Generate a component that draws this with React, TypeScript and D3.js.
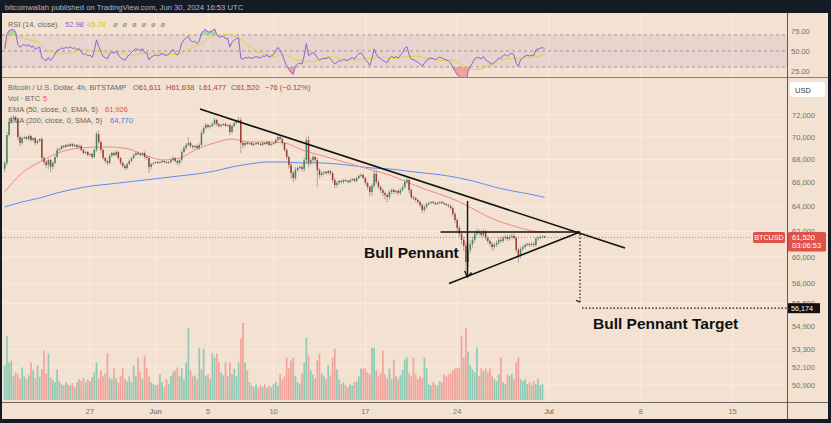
import React from 'react';
import * as d3 from 'd3';

// ---------- DATA (4h candles, BITSTAMP BTC/USD, from 2024-05-20 12:00 UTC) ----------
const START = Date.UTC(2024, 4, 20, 12);
const STEP = 4 * 3600 * 1000;
const FIRST_OPEN = 67200;
const LAST_OPEN = 61611;

const closes = [
  67700, 70170, 71360, 71720, 71820, 71540, 69990, 69460, 69900, 69990,
  69810, 70080, 69720, 69900, 69460, 69640, 69810, 68130, 67780, 67520,
  67960, 67350, 67700, 68220, 68840, 68920, 69190, 69100, 69280, 69190,
  69370, 69190, 69280, 69100, 69190, 68840, 68570, 68660, 68400, 68480,
  68220, 68840, 70260, 69550, 68840, 68130, 67870, 67700, 68310, 68570,
  68400, 68660, 68130, 67700, 67440, 67260, 67610, 67870, 68130, 68400,
  68570, 68480, 68400, 68570, 68220, 68130, 67350, 67610, 67700, 67780,
  67700, 67780, 67870, 67780, 67700, 67780, 67960, 68130, 67870, 67700,
  67960, 68660, 69010, 69280, 69460, 69190, 69100, 69190, 69010, 69280,
  70360, 70810, 71080, 70900, 70990, 71170, 71540, 71170, 70990, 71080,
  71170, 70990, 71080, 70450, 70990, 71260, 71450, 71540, 69460, 69280,
  69460, 69370, 69460, 69280, 69370, 69460, 69370, 69280, 69460, 69370,
  69550, 69280, 69370, 69460, 69720, 69990, 69810, 69460, 68840, 68220,
  67520, 66830, 66400, 67090, 67260, 67350, 67180, 67960, 69720, 67700,
  67960, 68220, 67960, 67090, 66660, 66830, 66920, 66830, 67000, 66830,
  66230, 65810, 65980, 66150, 66060, 66230, 66150, 66060, 66230, 66320,
  66150, 66400, 66580, 66660, 66400, 65980, 65640, 65220, 65730, 66750,
  66060, 65640, 65390, 65140, 64970, 64800, 65220, 65390, 65220, 65310,
  65140, 65390, 65640, 66060, 66230, 65390, 64800, 64720, 64550, 64390,
  64140, 63730, 63980, 64220, 64310, 64390, 64310, 64220, 64310, 64390,
  64310, 64220, 64140, 64060, 63890, 63400, 62920, 62270, 61800, 61320,
  60850, 59620, 60540, 61010, 61320, 61800, 61960, 61880, 61720, 61960,
  61480, 61240, 61010, 60770, 60930, 61090, 61320, 61240, 61480, 61560,
  61400, 61560, 61640, 61480, 60540, 60080, 60620, 60770, 60930, 61010,
  60930, 61010, 60930, 61400, 61480, 61560, 61596, 61520,
];

const wickUp = [
  150, 250, 200, 150, 180, 120, 200, 150, 100, 120,
  90, 150, 120, 80, 110, 130, 90, 200, 150, 180,
  120, 100, 140, 160, 180, 100, 80, 120, 90, 70,
  110, 80, 100, 90, 120, 130, 80, 100, 90, 110,
  120, 140, 200, 300, 150, 120, 100, 140, 180, 120,
  90, 140, 110, 80, 100, 120, 90, 140, 120, 110,
  100, 140, 90, 80, 150, 100, 220, 90, 80, 70,
  60, 80, 70, 60, 90, 80, 110, 150, 90, 100,
  120, 180, 200, 160, 530, 150, 120, 90, 110, 150,
  250, 180, 160, 140, 120, 150, 200, 120, 100, 110,
  90, 130, 100, 150, 160, 140, 120, 280, 250, 200,
  120, 90, 80, 70, 100, 80, 70, 90, 80, 100,
  120, 90, 80, 110, 150, 180, 200, 120, 100, 120,
  150, 200, 180, 250, 150, 120, 140, 220, 300, 400,
  180, 150, 120, 200, 180, 120, 100, 90, 110, 100,
  120, 180, 160, 100, 90, 80, 100, 90, 80, 100,
  90, 110, 120, 150, 130, 120, 110, 140, 200, 250,
  300, 180, 140, 120, 150, 110, 150, 120, 100, 90,
  110, 130, 160, 200, 180, 150, 140, 100, 90, 110,
  120, 140, 150, 110, 90, 80, 100, 70, 90, 80,
  90, 100, 80, 110, 120, 140, 150, 180, 200, 220,
  250, 300, 500, 280, 240, 200, 260, 180, 200, 220,
  180, 150, 130, 160, 180, 200, 220, 250, 180, 160,
  140, 160, 180, 150, 120, 200, 180, 150, 120, 110,
  100, 120, 140, 160, 150, 120, 100, 27,
];

const wickDn = [
  300, 200, 150, 180, 120, 140, 250, 300, 150, 120,
  100, 120, 140, 110, 200, 90, 100, 250, 300, 280,
  350, 450, 200, 150, 100, 120, 80, 100, 90, 110,
  80, 100, 90, 120, 100, 130, 110, 150, 120, 130,
  160, 120, 150, 200, 250, 180, 200, 220, 150, 120,
  110, 100, 200, 180, 160, 200, 150, 120, 100, 110,
  90, 110, 120, 100, 150, 180, 520, 200, 120, 90,
  80, 70, 90, 80, 60, 90, 100, 120, 150, 200,
  180, 150, 120, 160, 140, 180, 200, 150, 120, 160,
  120, 110, 140, 160, 120, 100, 130, 200, 150, 120,
  110, 90, 120, 300, 150, 110, 120, 150, 890, 300,
  200, 100, 90, 80, 70, 90, 80, 70, 90, 80,
  70, 90, 100, 80, 90, 120, 100, 150, 200, 250,
  300, 500, 400, 200, 180, 150, 200, 250, 300, 400,
  200, 220, 250, 1450, 300, 200, 180, 150, 160, 200,
  250, 300, 200, 150, 120, 140, 100, 120, 90, 100,
  110, 120, 100, 140, 120, 200, 250, 350, 300, 200,
  200, 220, 250, 300, 400, 420, 200, 180, 150, 160,
  200, 180, 150, 140, 160, 300, 200, 180, 150, 160,
  180, 250, 200, 140, 120, 100, 90, 110, 80, 100,
  90, 100, 120, 150, 160, 200, 250, 300, 250, 350,
  400, 1130, 400, 250, 300, 200, 150, 180, 200, 160,
  200, 180, 220, 300, 200, 180, 160, 150, 140, 120,
  130, 150, 120, 140, 200, 500, 200, 160, 140, 130,
  120, 140, 150, 130, 120, 110, 100, 43,
];

const volumes = [
  700, 1300, 760, 800, 480, 560, 520, 420, 660, 480,
  420, 500, 760, 600, 440, 700, 460, 620, 1000, 540,
  940, 460, 400, 360, 620, 380, 320, 300, 360, 320,
  300, 340, 260, 360, 420, 380, 440, 360, 420, 380,
  460, 560, 760, 440, 600, 480, 540, 940, 460, 420,
  640, 440, 360, 480, 640, 420, 380, 480, 360, 700,
  480, 860, 560, 440, 900, 640, 480, 360, 320, 300,
  320, 520, 360, 260, 420, 320, 480, 560, 600, 660,
  480, 640, 420, 760, 1460, 600, 480, 500, 420, 1060,
  620, 1040, 480, 520, 420, 940, 860, 940, 760, 560,
  500, 760, 480, 760, 520, 640, 480, 760, 1240, 1560,
  760, 600, 360, 300, 260, 320, 240, 300, 260, 320,
  240, 300, 260, 320, 360, 300, 520, 420, 480, 860,
  640, 800, 860, 480, 360, 320, 540, 760, 1260, 900,
  600, 520, 440, 800, 940, 540, 480, 420, 700, 500,
  860, 1040, 620, 420, 320, 360, 300, 260, 320, 300,
  360, 380, 480, 640, 640, 640, 560, 520, 1060, 1060,
  600, 480, 540, 1000, 520, 440, 640, 420, 820, 480,
  420, 500, 600, 820, 860, 540, 480, 860, 520, 420,
  480, 440, 860, 640, 320, 300, 360, 320, 300, 380,
  360, 520, 480, 520, 540, 600, 640, 640, 660, 1300,
  860, 1460, 980, 700, 620, 560, 1060, 480, 640, 580,
  640, 560, 640, 480, 420, 380, 520, 860, 360, 320,
  520, 480, 520, 420, 760, 860, 420, 380, 420, 320,
  360, 300, 380, 320, 420, 300, 320, 5,
];

// Moving averages at every 8th candle
const maIdx = [0, 8, 16, 24, 32, 40, 48, 56, 64, 72, 80, 88, 96, 104, 112, 120, 128, 136, 144, 152, 160, 168, 176, 184, 192, 200, 208, 216, 224, 232, 240, 247];
const ema50 = [65220, 66830, 67780, 68550, 68950, 69080, 69100, 68950, 68400, 67960, 68130, 68920, 69460, 69810, 69550, 69550, 69460, 68840, 68400, 67960, 67520, 67090, 66660, 66060, 65470, 64970, 64400, 63650, 62950, 62480, 62080, 61926];
const sma200 = [63980, 64390, 64720, 65140, 65470, 65730, 65890, 66060, 66230, 66400, 66580, 66750, 67000, 67350, 67610, 67780, 67780, 67700, 67700, 67610, 67440, 67260, 67180, 67000, 66830, 66660, 66400, 66060, 65640, 65310, 65050, 64770];

const RSI_SEED_GAIN = 140;
const RSI_SEED_LOSS = 160;

const priceTicks = [72000, 70000, 68000, 66000, 64000, 62000, 60000, 58000, 56500, 54900, 53300, 52100, 50900];
const timeTicks: [string, string][] = [
  ['2024-05-27', '27'], ['2024-06-01', 'Jun'], ['2024-06-05', '5'], ['2024-06-10', '10'],
  ['2024-06-17', '17'], ['2024-06-24', '24'], ['2024-07-01', 'Jul'], ['2024-07-08', '8'], ['2024-07-15', '15'],
];
const rsiLabels = [75, 50, 25];
const rsiBands = [70, 50, 30];

// annotation anchor points (time, price)
const upperTrend: [string, number][] = [['2024-06-04T09:20Z', 72557], ['2024-07-06T19:05Z', 60692]];
const lowerTrend: [string, number][] = [['2024-06-23T09:10Z', 57990], ['2024-07-03T08:45Z', 61950]];
const flagTop: [string, number][] = [['2024-06-22T17:30Z', 61950], ['2024-07-03T08:45Z', 61950]];
const flagPole: [string, number][] = [['2024-06-24T18:55Z', 64470], ['2024-06-24T18:55Z', 58475]];
const TARGET = 56174;
const LAST_PRICE = 61520;
const apexTime = '2024-07-03T08:45Z';
const bullLabel: [string, number] = ['2024-06-16T21:35Z', 59878];
const targetLabel: [string, number] = ['2024-07-04T08:30Z', 54690];

export default function App() {
  const W = 831, H = 423;
  const PL = 2, PR = 787.5, RSI_T = 13, RSI_B = 77.5, MAIN_T = 78, MAIN_B = 402.5, AX_B = 419;
  const font = '"Liberation Sans", Arial, sans-serif';

  const x = d3.scaleUtc().domain([new Date(START), new Date(Date.UTC(2024, 6, 1))]).range([4.7, 549]);
  const y = d3.scaleLog().domain([72000, 58000]).range([115, 283.3]);
  const yR = d3.scaleLinear().domain([70, 30]).range([35, 67]);
  const yV = d3.scaleLinear().domain([0, 1600]).range([400, 321]);

  const candles = closes.map((c, i) => {
    const o = i === 0 ? FIRST_OPEN : i === closes.length - 1 ? LAST_OPEN : closes[i - 1];
    return {
      t: new Date(START + i * STEP), o, c,
      hi: Math.max(o, c) + (wickUp[i] ?? 0),
      lo: Math.min(o, c) - (wickDn[i] ?? 0),
      v: volumes[i] ?? 0,
    };
  });

  // RSI(14) Wilder + SMA(14)
  let ag = RSI_SEED_GAIN, al = RSI_SEED_LOSS;
  const rsi = closes.map((c, i) => {
    const prev = i === 0 ? FIRST_OPEN : closes[i - 1];
    const d = c - prev;
    ag = (ag * 13 + Math.max(d, 0)) / 14;
    al = (al * 13 + Math.max(-d, 0)) / 14;
    return 100 - 100 / (1 + ag / al);
  });
  const rsiMa = rsi.map((_, i) => d3.mean(rsi.slice(Math.max(0, i - 13), i + 1)) as number);
  const tIdx = (i: number) => x(new Date(START + i * STEP));

  const rsiLine = d3.line<number>().x((_, i) => tIdx(i)).y(d => yR(d))(rsi) || '';
  const rsiMaLine = d3.line<number>().x((_, i) => tIdx(i)).y(d => yR(d)).curve(d3.curveMonotoneX)(rsiMa) || '';
  const rsiHi = d3.area<number>().x((_, i) => tIdx(i)).y0(yR(70)).y1(d => yR(Math.max(d, 70)))(rsi) || '';
  const rsiLo = d3.area<number>().x((_, i) => tIdx(i)).y0(yR(30)).y1(d => yR(Math.min(d, 30)))(rsi) || '';

  const maLine = (vals: number[]) =>
    d3.line<number>().x((_, k) => tIdx(maIdx[k])).y(d => y(d)).curve(d3.curveMonotoneX)(vals) || '';

  const P = (p: [string, number]) => [x(new Date(p[0])), y(p[1])];
  const seg = (a: [string, number][]) => {
    const [x1, y1] = P(a[0]); const [x2, y2] = P(a[1]);
    return { x1, y1, x2, y2 };
  };
  const up = seg(upperTrend), lo = seg(lowerTrend), ft = seg(flagTop), fp = seg(flagPole);
  const apexX = x(new Date(apexTime));
  const yT = y(TARGET);
  const yLast = y(LAST_PRICE);
  const fmt = d3.format(',');
  const [blx, bly] = P(bullLabel);
  const [tlx, tly] = P(targetLabel);

  const gridC = '#f8ece2';
  const axisTxt = '#7b7169';
  const legendTxt = '#6e655e';

  return (
    <svg width={W} height={H} style={{ position: 'absolute', left: 0, top: 0, display: 'block' }} fontFamily={font}>
      <defs>
        <clipPath id="mainClip"><rect x={PL} y={MAIN_T} width={PR - PL} height={MAIN_B - MAIN_T} /></clipPath>
        <clipPath id="rsiClip"><rect x={PL} y={RSI_T} width={PR - PL} height={RSI_B - RSI_T} /></clipPath>
      </defs>
      <rect x={0} y={0} width={W} height={H} fill="#161a25" />
      <rect x={PL} y={RSI_T} width={W - 3 - PL} height={AX_B - RSI_T} fill="#f3e1d1" />
      <text x={5} y={9.5} fontSize={7.7} fill="#b4b7c0">bitcoinwallah published on TradingView.com, Jun 30, 2024 16:53 UTC</text>

      {/* vertical grid */}
      {timeTicks.map(([d]) => (
        <line key={'vg' + d} x1={x(new Date(d))} x2={x(new Date(d))} y1={RSI_T} y2={MAIN_B} stroke={gridC} strokeWidth={1} />
      ))}
      {/* horizontal grid */}
      {priceTicks.map(p => (
        <line key={'hg' + p} x1={PL} x2={PR} y1={y(p)} y2={y(p)} stroke={gridC} strokeWidth={1} />
      ))}

      {/* RSI pane */}
      <rect x={PL} y={yR(70)} width={PR - PL} height={yR(30) - yR(70)} fill="#7e57c2" opacity={0.09} />
      {rsiBands.map(b => (
        <line key={'rb' + b} x1={PL} x2={PR} y1={yR(b)} y2={yR(b)} stroke="#9a8e8a" strokeDasharray="3,3" strokeWidth={0.9} />
      ))}
      <g clipPath="url(#rsiClip)">
        <path d={rsiHi} fill="#7cc48a" opacity={0.55} />
        <path d={rsiLo} fill="#f07070" opacity={0.55} />
        <path d={rsiMaLine} fill="none" stroke="#e8cf2e" strokeWidth={1} />
        <path d={rsiLine} fill="none" stroke="#8a63d2" strokeWidth={1} />
      </g>
      <text y={26.5} fontSize={7.5}>
        <tspan x={8} fill={legendTxt}>RSI (14, close)</tspan>
        <tspan x={65} fill="#8a63d2">52.98</tspan>
        <tspan x={87} fill="#d9c21f">45.78</tspan>
        {[113, 122.5, 132, 141.5, 151, 160.5].map(xx => <tspan key={xx} x={xx} fill="#8c837c">ø</tspan>)}
      </text>
      {rsiLabels.map(v => (
        <text key={'rl' + v} x={791} y={yR(v) + 2.7} fontSize={7.5} fill={axisTxt}>{v.toFixed(2)}</text>
      ))}

      {/* main pane */}
      <g clipPath="url(#mainClip)">
        {/* volume */}
        {candles.map((d, i) => (
          <rect key={'v' + i} x={x(d.t) - 0.85} width={1.7} y={yV(d.v)} height={400 - yV(d.v)}
            fill={d.c >= d.o ? '#8fcab4' : '#f2a39b'} />
        ))}
        {/* moving averages */}
        <path d={maLine(sma200)} fill="none" stroke="#5a8ef2" strokeWidth={1} />
        <path d={maLine(ema50)} fill="none" stroke="#f08a84" strokeWidth={1} />
        {/* last price line */}
        <line x1={PL} x2={752} y1={yLast} y2={yLast} stroke="#e4675f" strokeWidth={0.9} strokeDasharray="1,2" />
        {/* candles */}
        {candles.map((d, i) => {
          const cx = x(d.t);
          const top = y(Math.max(d.o, d.c)), bot = y(Math.min(d.o, d.c));
          const col = d.c >= d.o ? '#3d8a62' : '#a13a30';
          return (
            <g key={'c' + i}>
              <line x1={cx} x2={cx} y1={y(d.hi)} y2={y(d.lo)} stroke="#8f8a84" strokeWidth={0.7} />
              <rect x={cx - 0.75} width={1.5} y={top} height={Math.max(0.8, bot - top)} fill={col} />
            </g>
          );
        })}
        {/* annotations */}
        <line {...up} stroke="#111" strokeWidth={1.6} />
        <line {...lo} stroke="#111" strokeWidth={1.6} />
        <line {...ft} stroke="#111" strokeWidth={1.6} />
        <line {...fp} stroke="#111" strokeWidth={1.4} />
        <polyline points={`${fp.x2 - 3},${fp.y2 - 6} ${fp.x2},${fp.y2} ${fp.x2 + 4},${fp.y2 - 4.5}`} fill="none" stroke="#111" strokeWidth={1.3} />
        <line x1={apexX} x2={apexX} y1={ft.y2 + 2} y2={yT - 6} stroke="#111" strokeWidth={1.2} strokeDasharray="1.5,2" />
        <polyline points={`${apexX},${yT - 6} ${apexX - 4},${yT - 8}`} fill="none" stroke="#111" strokeWidth={1.1} />
        <line x1={apexX + 2} x2={PR} y1={yT} y2={yT} stroke="#111" strokeWidth={1.2} strokeDasharray="1.5,2" />
        <text x={blx} y={bly} fontSize={15.5} fontWeight={700} fill="#111">Bull Pennant</text>
        <text x={tlx} y={tly} fontSize={15.5} fontWeight={700} fill="#111">Bull Pennant Target</text>
      </g>

      {/* legend */}
      <g fontSize={7.5}>
        <text y={90}>
          <tspan x={8} fill={legendTxt}>Bitcoin / U.S. Dollar, 4h, BITSTAMP</tspan>
          <tspan x={133} fill={legendTxt}>O</tspan><tspan fill="#b03a34">61,611</tspan>
          <tspan x={166} fill={legendTxt}>H</tspan><tspan fill="#b03a34">61,638</tspan>
          <tspan x={199} fill={legendTxt}>L</tspan><tspan fill="#b03a34">61,477</tspan>
          <tspan x={231} fill={legendTxt}>C</tspan><tspan fill="#b03a34">61,520</tspan>
          <tspan x={265} fill="#b03a34">−76 (−0.12%)</tspan>
        </text>
        <text y={101}>
          <tspan x={8} fill={legendTxt}>Vol · BTC</tspan>
          <tspan x={43} fill="#e5534b">5</tspan>
        </text>
        <text y={112}>
          <tspan x={8} fill={legendTxt}>EMA (50, close, 0, EMA, 5)</tspan>
          <tspan x={105} fill="#e5534b">61,926</tspan>
        </text>
        <text y={123}>
          <tspan x={8} fill={legendTxt}>SMA (200, close, 0, SMA, 5)</tspan>
          <tspan x={110} fill="#4a7ff0">64,770</tspan>
        </text>
      </g>

      {/* separators & axes */}
      <line x1={PL} x2={W - 3} y1={RSI_B} y2={RSI_B} stroke="#8a8078" strokeWidth={1.2} />
      <line x1={PL} x2={W - 3} y1={MAIN_B} y2={MAIN_B} stroke="#6f665f" strokeWidth={1} />
      <line x1={PR} x2={PR} y1={RSI_T} y2={AX_B} stroke="#5f5750" strokeWidth={1} />

      {priceTicks.map(p => (
        <text key={'pt' + p} x={792} y={y(p) + 2.7} fontSize={7.5} fill={axisTxt}>{fmt(p)}</text>
      ))}
      {timeTicks.map(([d, l]) => (
        <text key={'tt' + d} x={x(new Date(d))} y={413.5} fontSize={7.5} textAnchor="middle"
          fill={l.length === 3 ? '#5e554e' : axisTxt}>{l}</text>
      ))}

      {/* USD box */}
      <rect x={790} y={82} width={35} height={15} rx={2} fill="#ffffff" />
      <text x={795} y={92.5} fontSize={7.5} fill="#333">USD</text>

      {/* last price labels */}
      <rect x={753} y={yLast - 5.5} width={32} height={11} rx={1.5} fill="#df5249" />
      <text x={769} y={yLast + 2.6} fontSize={7.2} fill="#fff" textAnchor="middle">BTCUSD</text>
      <rect x={788} y={yLast - 5.5} width={38} height={19.5} rx={1.5} fill="#df5249" />
      <text x={792} y={yLast + 2.6} fontSize={7.5} fill="#fff">{fmt(LAST_PRICE)}</text>
      <text x={792} y={yLast + 11} fontSize={7.5} fill="#fff">03:06:53</text>

      {/* target label */}
      <rect x={788} y={yT - 5} width={32} height={10} fill="#111" />
      <text x={791} y={yT + 2.6} fontSize={7.2} fill="#fff">{fmt(TARGET)}</text>
    </svg>
  );
}
